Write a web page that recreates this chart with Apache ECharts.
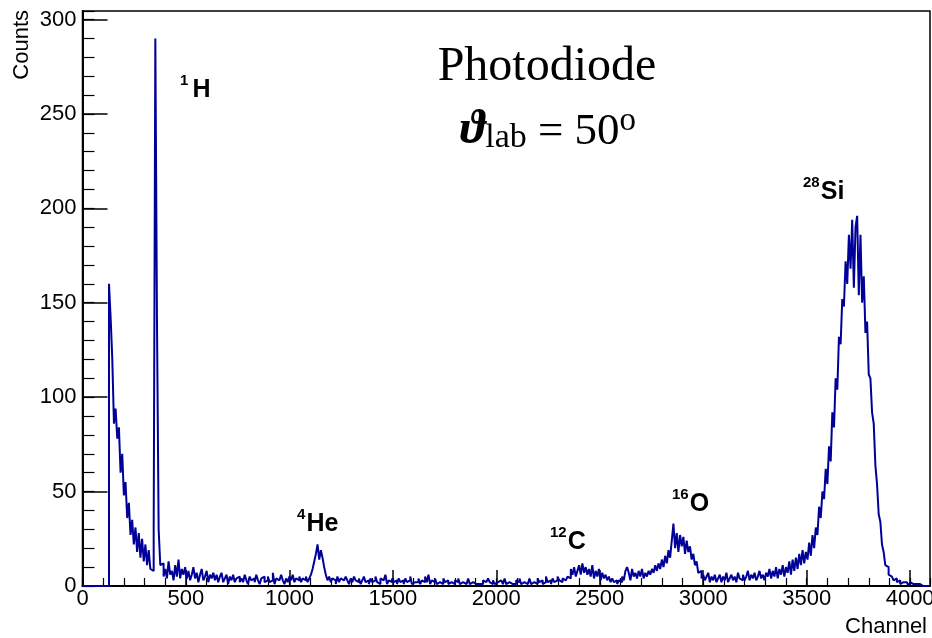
<!DOCTYPE html>
<html>
<head>
<meta charset="utf-8">
<script src="https://cdn.jsdelivr.net/npm/echarts@6/dist/echarts.min.js"></script>
<style>
  html, body { margin: 0; padding: 0; background: #fff; }
  #chart { width: 932px; height: 638px; }
</style>
</head>
<body>
<div id="chart"></div>
<script>
// Photodiode spectrum, 4096 ADC channels grouped in bins of 8 channels.
const binWidth = 8;
const channelMax = 4096;
const countsMax = 304.5;
const xTickStep = 500;
const xMinorStep = 100;
const yTickStep = 50;
const yMinorStep = 10;

// channels 0 - 376: threshold tail and the proton line
const countsTail = [
  0, 0, 0, 0, 0, 0, 0, 0, 0, 0, 0, 0, 0, 0, 0, 0,
  160, 142, 120, 86, 94, 78, 84, 60, 70, 48, 55, 36, 44, 27, 35, 22,
  31, 18, 28, 15, 25, 13, 22, 11, 19, 9, 8, 30, 290, 140, 30, 11
];
// channels 384 - 1016: falling background
const countsBackgroundLow = [
  12, 5, 9, 4, 13, 6, 8, 3, 11, 5, 14, 4, 9, 6, 10, 4,
  8, 3, 6, 10, 4, 7, 2, 6, 9, 3, 5, 8, 2, 6, 4, 7,
  3, 6, 2, 5, 7, 2, 4, 6, 1, 5, 3, 6, 2, 4, 5, 2,
  4, 2, 6, 3, 1, 5, 3, 4, 2, 6, 3, 1, 4, 5, 2, 3,
  5, 2, 3, 7, 1, 4, 3, 2, 6, 3, 1, 4, 2, 5, 3, 6
];
// channels 1024 - 1272: alpha line
const countsHe = [
  2, 4, 3, 5, 2, 4, 3, 5, 2, 4, 6, 9, 13, 17, 22, 14,
  19, 15, 10, 6, 3, 5, 2, 4, 3, 1, 5, 2, 4, 3, 2, 5
];
// channels 1280 - 2296: flat region
const countsFlat = [
  3, 1, 4, 2, 5, 3, 2, 4, 1, 3, 5, 2, 3, 1, 4, 2,
  3, 5, 2, 1, 4, 3, 2, 6, 1, 3, 2, 4, 2, 3, 1, 4,
  2, 3, 1, 4, 2, 3, 5, 1, 2, 3, 2, 4, 1, 3, 2, 5,
  2, 6, 1, 3, 2, 4, 1, 2, 3, 1, 4, 2, 3, 1, 2, 3,
  1, 3, 2, 4, 1, 2, 3, 1, 2, 4, 1, 2, 3, 1, 2, 1,
  2, 1, 3, 2, 1, 4, 2, 1, 3, 1, 2, 1, 3, 2, 1, 4,
  1, 2, 3, 1, 2, 1, 3, 2, 4, 1, 2, 3, 1, 2, 4, 1,
  2, 3, 1, 4, 2, 3, 1, 2, 5, 2, 3, 1, 4, 2, 3, 5
];
// channels 2304 - 3064: carbon and oxygen lines
const countsCO = [
  3, 2, 4, 3, 2, 5, 4, 9, 6, 10, 5, 8, 11, 6, 12, 7,
  10, 6, 9, 5, 11, 4, 8, 5, 9, 3, 7, 4, 6, 3, 5, 2,
  4, 2, 3, 1, 3, 2, 5, 3, 8, 10, 7, 3, 9, 5, 7, 4,
  8, 5, 9, 4, 7, 5, 8, 6, 9, 7, 11, 8, 12, 9, 14, 10,
  16, 12, 19, 15, 24, 33, 20, 28, 18, 27, 21, 26, 17, 24, 18, 21,
  14, 17, 11, 13, 7, 8, 4, 6, 3, 5, 7, 2, 5, 3, 6, 2
];
// channels 3072 - 4088: silicon line
const countsSi = [
  4, 6, 2, 5, 3, 7, 2, 4, 6, 3, 5, 2, 7, 4, 3, 6,
  3, 5, 8, 3, 6, 4, 7, 3, 5, 8, 4, 6, 3, 7, 5, 9,
  4, 8, 5, 10, 4, 9, 6, 11, 5, 10, 7, 13, 6, 14, 8, 15,
  9, 17, 11, 19, 12, 18, 14, 23, 16, 27, 20, 31, 27, 42, 36, 50,
  46, 62, 54, 74, 66, 92, 84, 110, 104, 132, 128, 152, 148, 172, 160, 186,
  168, 194, 158, 190, 196, 154, 186, 150, 164, 134, 140, 112, 110, 92, 86, 64,
  54, 38, 34, 22, 18, 11, 10, 6, 5, 6, 3, 4, 2, 3, 1, 2,
  1, 2, 1, 0, 2, 1, 0, 1, 0, 1, 0, 0, 0, 0, 0, 0
];

const peakMasses = ['1', '4', '12', '16', '28'];
const peakSymbols = ['H', 'He', 'C', 'O', 'Si'];
const titleText = 'Photodiode';
const angleParts = ['ϑ', 'lab', ' = 50', 'o'];
const xTitle = 'Channel';
const yTitle = 'Counts';

const counts = [].concat(countsTail, countsBackgroundLow, countsHe, countsFlat, countsCO, countsSi);
const histData = counts.map((c, i) => [i * binWidth, c]);
histData.push([counts.length * binWidth, counts[counts.length - 1]]);

const sans = '"Liberation Sans", Arial, Helvetica, sans-serif';
const serif = '"Liberation Serif", "Times New Roman", "DejaVu Serif", serif';

// label anchor: left edge of the superscript, baseline of the element symbol
const peakLabelPos = [[180, 98], [297, 532], [550, 550], [672, 512], [803, 200]];

function peakLabel(mass, sym, pos) {
  return {
    type: 'text',
    x: pos[0],
    y: pos[1] - 24.4,
    z: 10,
    style: {
      text: '{s|' + mass + '}{g| }{m|' + sym + '}',
      font: 'bold 25px ' + sans,
      fill: '#000',
      align: 'left',
      verticalAlign: 'top',
      rich: {
        s: { fontSize: 15, fontWeight: 'bold', fontFamily: sans, lineHeight: 15, verticalAlign: 'top', fill: '#000' },
        g: { fontSize: sym === 'H' ? 15 : 4, fontFamily: sans, lineHeight: 15, verticalAlign: 'top' },
        m: { fontSize: 25, fontWeight: 'bold', fontFamily: sans, lineHeight: 29, verticalAlign: 'bottom', fill: '#000' }
      }
    }
  };
}

const graphics = peakMasses.map((m, i) => peakLabel(m, peakSymbols[i], peakLabelPos[i]));

graphics.push({
  type: 'text', x: 547, y: 43, z: 10,
  style: { text: titleText, font: '48px ' + serif, fill: '#000', align: 'center', verticalAlign: 'top' }
});
graphics.push({
  type: 'text', x: 548, y: 105, z: 10,
  style: {
    text: '{t|' + angleParts[0] + '}{l|' + angleParts[1] + '}{n|' + angleParts[2] + '}{o|' + angleParts[3] + '}',
    font: '45px ' + serif, fill: '#000', align: 'center', verticalAlign: 'top',
    rich: {
      t: { fontSize: 48, fontWeight: 'bold', fontStyle: 'italic', fontFamily: serif, lineHeight: 50, verticalAlign: 'bottom', fill: '#000' },
      l: { fontSize: 34, fontFamily: serif, lineHeight: 37, verticalAlign: 'bottom', fill: '#000' },
      n: { fontSize: 45, fontFamily: serif, lineHeight: 50, verticalAlign: 'bottom', fill: '#000' },
      o: { fontSize: 33, fontFamily: serif, lineHeight: 29, verticalAlign: 'top', fill: '#000' }
    }
  }
});
graphics.push({
  type: 'text', x: 11, y: 10, rotation: Math.PI / 2, z: 10,
  style: { text: yTitle, font: '22px ' + sans, fill: '#000', align: 'right', verticalAlign: 'top' }
});
graphics.push({
  type: 'text', x: 927, y: 638, z: 10,
  style: { text: xTitle, font: '22px ' + sans, fill: '#000', align: 'right', verticalAlign: 'bottom' }
});

const axisFont = { fontSize: 22, fontFamily: sans, color: '#000' };

const option = {
  animation: false,
  backgroundColor: '#fff',
  grid: {
    left: 82.5, top: 11, right: 2, bottom: 52,
    containLabel: false, outerBoundsMode: 'none',
    show: true, borderColor: '#000', borderWidth: 1.5, backgroundColor: 'transparent'
  },
  xAxis: [
    {
      type: 'value', min: 0, max: channelMax, interval: xTickStep, position: 'bottom',
      axisLine: { show: true, onZero: false, lineStyle: { color: '#000', width: 2 } },
      axisTick: { show: true, inside: true, length: 16, lineStyle: { color: '#000', width: 1.5 } },
      axisLabel: Object.assign({ margin: 2, showMaxLabel: false,
        formatter: v => (v % xTickStep === 0 ? String(v) : '') }, axisFont),
      splitLine: { show: false }
    },
    {
      type: 'value', min: 0, max: channelMax, interval: xMinorStep, position: 'bottom',
      axisLine: { show: false },
      axisTick: { show: true, inside: true, length: 8, lineStyle: { color: '#000', width: 1.2 } },
      axisLabel: { show: false },
      splitLine: { show: false }
    }
  ],
  yAxis: [
    {
      type: 'value', min: 0, max: countsMax, interval: yTickStep, position: 'left',
      axisLine: { show: true, onZero: false, lineStyle: { color: '#000', width: 2 } },
      axisTick: { show: true, inside: true, length: 25, lineStyle: { color: '#000', width: 1.5 } },
      axisLabel: Object.assign({ margin: 6, showMaxLabel: false,
        formatter: v => (v % yTickStep === 0 ? String(v) : '') }, axisFont),
      splitLine: { show: false }
    },
    {
      type: 'value', min: 0, max: countsMax, interval: yMinorStep, position: 'left',
      axisLine: { show: false },
      axisTick: { show: true, inside: true, length: 12, lineStyle: { color: '#000', width: 1.2 } },
      axisLabel: { show: false },
      splitLine: { show: false }
    }
  ],
  series: [{
    type: 'line',
    xAxisIndex: 0, yAxisIndex: 0,
    data: histData,
    step: 'end',
    symbol: 'none', showSymbol: false,
    silent: true,
    lineStyle: { color: '#000099', width: 2 },
    itemStyle: { color: '#000099' },
    z: 3
  }],
  graphic: graphics
};

const chart = echarts.init(document.getElementById('chart'), null, { renderer: 'canvas' });
chart.setOption(option);
</script>
</body>
</html>
